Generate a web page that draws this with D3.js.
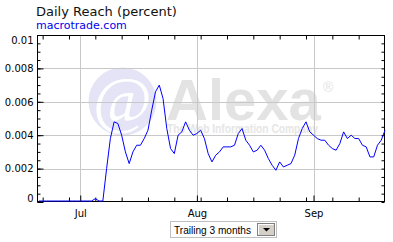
<!DOCTYPE html>
<html>
<head>
<meta charset="utf-8">
<script src="https://cdn.jsdelivr.net/npm/d3@7"></script>
<style>
  body { margin: 0; background: #fff; }
  svg { display: block; }
  text { font-family: "DejaVu Sans", Verdana, sans-serif; }
</style>
</head>
<body>
<svg id="chart" width="393" height="242"></svg>
<script>
// daily reach, one value per day starting Jun 20
var firstDay = '2008-06-20';
var reach = [
    0, 0, 0, 0, 0, 0, 0, 0, 0, 0, 0, 0, 0, 0, 0,
    0.0002, 0, 0,
    0.0020, 0.0038, 0.0048, 0.0047, 0.0040, 0.0030, 0.0023, 0.0030, 0.0034, 0.0034,
    0.0038, 0.0043, 0.0055, 0.0066, 0.0070, 0.0062, 0.0044, 0.0032, 0.0029, 0.0040,
    0.0042, 0.0048, 0.0043, 0.0040, 0.0041, 0.0043, 0.0038, 0.0029, 0.0024, 0.0028,
    0.0030, 0.0033, 0.0033, 0.0033, 0.0034, 0.0041, 0.0044, 0.0037, 0.0034, 0.0030,
    0.0031, 0.0034, 0.0031, 0.0026, 0.0022, 0.0019, 0.0024, 0.0021, 0.0022, 0.0023,
    0.0028, 0.0038, 0.0044, 0.0048, 0.0042, 0.0040, 0.0038, 0.0037, 0.0037, 0.0034,
    0.0032, 0.0031, 0.0035, 0.0042, 0.0038, 0.0040, 0.0038, 0.0038, 0.0034, 0.0033,
    0.0027, 0.0027, 0.0034, 0.0037, 0.0043
];
var yTicks = [0, 0.002, 0.004, 0.006, 0.008, 0.01];
var yTickLabels = ['0', '0.002', '0.004', '0.006', '0.008', '0.01'];
var months = ['2008-07-01', '2008-08-01', '2008-09-01'];
var monthLabels = ['Jul', 'Aug', 'Sep'];
var title = 'Daily Reach (percent)';
var siteName = 'macrotrade.com';
var rangeLabel = 'Trailing 3 months';

(function() {
    var svg = d3.select('#chart');
    var left = 37, right = 385, top = 35, bottom = 202;
    var parse = d3.utcParse('%Y-%m-%d');

    var start = parse(firstDay);
    var points = reach.map(function(v, i) {
        return { date: d3.utcDay.offset(start, i), value: v };
    });

    var x = d3.scaleUtc()
        .domain([d3.utcHour.offset(start, -12), points[points.length - 1].date])
        .range([left, right]);
    var y = d3.scaleLinear().domain([0, 0.01]).range([bottom, top]);

    // title
    svg.append('text').attr('x', 36).attr('y', 16)
        .style('font-size', '13px').attr('fill', '#111').text(title);
    svg.append('text').attr('x', 36).attr('y', 29)
        .style('font-size', '11px').attr('fill', '#0000ee').text(siteName);

    // watermark
    var wm = svg.append('g');
    wm.append('circle').attr('cx', 122.5).attr('cy', 101.5).attr('r', 34)
        .attr('fill', '#e4e4f6');
    wm.append('text').attr('x', 122.5).attr('y', 121).attr('text-anchor', 'middle')
        .style('font-family', '"Liberation Serif", serif').style('font-size', '64px')
        .attr('fill', '#fff').text('@');
    wm.append('text').attr('x', 166).attr('y', 120)
        .style('font-family', '"Liberation Sans", Arial, sans-serif')
        .style('font-size', '58px').style('font-weight', 'bold')
        .attr('fill', '#e3e3e3').text('Alexa');
    wm.append('text').attr('x', 323).attr('y', 92)
        .style('font-family', '"Liberation Sans", Arial, sans-serif')
        .style('font-size', '14px').attr('fill', '#e3e3e3').text('\u00ae');
    wm.append('text').attr('x', 167).attr('y', 133)
        .attr('textLength', 151).attr('lengthAdjust', 'spacingAndGlyphs')
        .style('font-family', '"Liberation Sans", Arial, sans-serif')
        .style('font-size', '12px').style('font-weight', 'bold')
        .attr('fill', '#e6e6e6').text('The Web Information Company');

    // grid
    svg.append('g').selectAll('line').data(yTicks.slice(1, -1)).enter().append('line')
        .attr('x1', left).attr('x2', right)
        .attr('y1', function(d) { return Math.round(y(d)) + 0.5; })
        .attr('y2', function(d) { return Math.round(y(d)) + 0.5; })
        .attr('stroke', '#c8c8c8');
    svg.append('g').selectAll('line').data(months).enter().append('line')
        .attr('x1', function(d) { return Math.round(x(parse(d))) + 0.5; })
        .attr('x2', function(d) { return Math.round(x(parse(d))) + 0.5; })
        .attr('y1', top).attr('y2', bottom)
        .attr('stroke', '#c8c8c8');

    // axes
    var minorY = d3.range(0, 0.01001, 0.0005);
    var weeks = d3.utcSaturday.range(x.domain()[0], x.domain()[1]);

    function styleAxis(g) {
        g.select('.domain').remove();
        g.selectAll('line').attr('stroke', '#000');
    }

    svg.append('g').attr('transform', 'translate(' + (left + 0.5) + ',0)')
        .call(d3.axisLeft(y).tickValues(minorY).tickSize(-3).tickFormat(''))
        .call(styleAxis);
    svg.append('g').attr('transform', 'translate(' + (right - 0.5) + ',0)')
        .call(d3.axisRight(y).tickValues(minorY).tickSize(-3).tickFormat(''))
        .call(styleAxis);
    svg.append('g').attr('transform', 'translate(0,' + (bottom - 0.5) + ')')
        .call(d3.axisBottom(x).tickValues(weeks).tickSize(-4).tickFormat(''))
        .call(styleAxis);
    svg.append('g').attr('transform', 'translate(0,' + (top + 0.5) + ')')
        .call(d3.axisTop(x).tickValues(weeks).tickSize(-4).tickFormat(''))
        .call(styleAxis);

    var yAxis = svg.append('g').attr('transform', 'translate(' + (left + 0.5) + ',0)')
        .call(d3.axisLeft(y).tickValues(yTicks).tickSize(-6).tickPadding(4)
            .tickFormat(function(d, i) { return yTickLabels[i]; }))
        .call(styleAxis);
    yAxis.selectAll('text').style('font-size', '10px').attr('fill', '#000')
        .attr('transform', function(d) {
            if (d === 0.01) return 'translate(0,5)';
            if (d === 0) return 'translate(0,-4)';
            return null;
        });

    var xAxis = svg.append('g').attr('transform', 'translate(0,' + (bottom - 0.5) + ')')
        .call(d3.axisBottom(x).tickValues(months.map(parse)).tickSize(-6).tickPadding(8)
            .tickFormat(function(d, i) { return monthLabels[i]; }))
        .call(styleAxis);
    xAxis.selectAll('text').style('font-size', '10px').attr('fill', '#000');

    // frame
    svg.append('rect').attr('x', left + 0.5).attr('y', top + 0.5)
        .attr('width', right - left - 1).attr('height', bottom - top - 1)
        .attr('fill', 'none').attr('stroke', '#000');

    // series
    var line = d3.line()
        .x(function(d) { return x(d.date); })
        .y(function(d) { return Math.min(y(d.value), bottom - 1); });
    svg.append('path').datum(points)
        .attr('d', line)
        .attr('fill', 'none').attr('stroke', '#0000ff').attr('stroke-width', 1);

    // range selector
    var sel = svg.append('g');
    sel.append('rect').attr('x', 170.5).attr('y', 221.5).attr('width', 106).attr('height', 16)
        .attr('fill', '#fff').attr('stroke', '#c0c0c0');
    sel.append('text').attr('x', 174).attr('y', 233.5)
        .attr('textLength', 77).attr('lengthAdjust', 'spacingAndGlyphs')
        .style('font-family', '"Liberation Sans", Arial, sans-serif').style('font-size', '11px')
        .attr('fill', '#000').text(rangeLabel);
    sel.append('rect').attr('x', 257.5).attr('y', 223.5).attr('width', 17).attr('height', 12)
        .attr('fill', '#d4d0c8').attr('stroke', '#808080');
    sel.append('path').attr('d', 'M258.5,234.5V224.5H273.5').attr('fill', 'none').attr('stroke', '#fff');
    sel.append('path').attr('d', 'M263,228h7l-3.5,3.5z').attr('fill', '#000');
})();
</script>
</body>
</html>
